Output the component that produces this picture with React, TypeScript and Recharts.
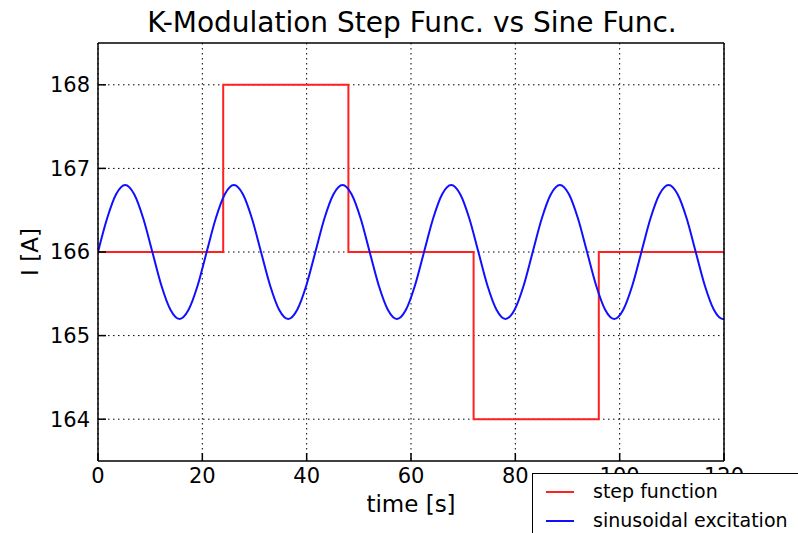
import React from 'react';
import { LineChart, Line, XAxis, YAxis, CartesianGrid } from 'recharts';

// time [s] and current [A] of the sinusoidal excitation
const sineTime = [
  0, 1.74, 3.47, 5.21, 6.94, 8.68, 10.42, 12.15, 13.89, 15.62, 17.36, 19.1,
  20.83, 22.57, 24.31, 26.04, 27.78, 29.51, 31.25, 32.99, 34.72, 36.46, 38.19, 39.93,
  41.67, 43.4, 45.14, 46.88, 48.61, 50.35, 52.08, 53.82, 55.56, 57.29, 59.03, 60.76,
  62.5, 64.24, 65.97, 67.71, 69.44, 71.18, 72.92, 74.65, 76.39, 78.12, 79.86, 81.6,
  83.33, 85.07, 86.81, 88.54, 90.28, 92.01, 93.75, 95.49, 97.22, 98.96, 100.69, 102.43,
  104.17, 105.9, 107.64, 109.37, 111.11, 112.85, 114.58, 116.32, 118.06, 119.79, 120,
];
const sineCurrent = [
  166, 166.4, 166.69, 166.8, 166.69, 166.4, 166, 165.6, 165.31, 165.2, 165.31, 165.6,
  166, 166.4, 166.69, 166.8, 166.69, 166.4, 166, 165.6, 165.31, 165.2, 165.31, 165.6,
  166, 166.4, 166.69, 166.8, 166.69, 166.4, 166, 165.6, 165.31, 165.2, 165.31, 165.6,
  166, 166.4, 166.69, 166.8, 166.69, 166.4, 166, 165.6, 165.31, 165.2, 165.31, 165.6,
  166, 166.4, 166.69, 166.8, 166.69, 166.4, 166, 165.6, 165.31, 165.2, 165.31, 165.6,
  166, 166.4, 166.69, 166.8, 166.69, 166.4, 166, 165.6, 165.31, 165.2, 165.2,
];

// step function
const stepTime = [0, 24, 48, 72, 96, 120];
const stepCurrent = [166, 168, 166, 164, 166, 166];

const xTicks = [0, 20, 40, 60, 80, 100, 120];
const yTicks = [164, 165, 166, 167, 168];

const sineData = sineTime.map((t, i) => ({ t, v: sineCurrent[i] }));
const stepData = stepTime.map((t, i) => ({ t, v: stepCurrent[i] }));

const FONT = '"DejaVu Sans", sans-serif';

export default function App() {
  return (
    <div style={{ position: 'absolute', left: 0, top: 0, width: 798, height: 533, background: '#fff', fontFamily: FONT, overflow: 'hidden' }}>
      <div style={{ position: 'absolute', left: 0, top: 7, width: 824, textAlign: 'center', fontSize: 28, lineHeight: '32px', color: '#000', whiteSpace: 'nowrap' }}>
        K-Modulation Step Func. vs Sine Func.
      </div>
      <LineChart width={798} height={533} margin={{ top: 42, right: 73, bottom: 17, left: 23 }}>
        <CartesianGrid stroke="#000" strokeDasharray="1.5 3.5" strokeWidth={1} xAxisId="bottom" yAxisId="left" verticalValues={xTicks} horizontalValues={yTicks} />
        <XAxis
          xAxisId="bottom"
          dataKey="t"
          type="number"
          domain={[0, 120]}
          ticks={xTicks}
          allowDataOverflow
          height={55}
          stroke="#000"
          strokeWidth={1.5}
          tickSize={-8}
          tickMargin={15}
          tick={{ fill: '#000', fontSize: 21, fontFamily: FONT }}
          label={{ value: 'time [s]', position: 'insideBottom', offset: 4, style: { fill: '#000', fontSize: 23, fontFamily: FONT } }}
        />
        <XAxis
          xAxisId="top"
          orientation="top"
          dataKey="t"
          type="number"
          domain={[0, 120]}
          ticks={xTicks}
          allowDataOverflow
          height={1}
          stroke="#000"
          strokeWidth={1.5}
          tickSize={-8}
          tick={false}
        />
        <YAxis
          yAxisId="left"
          type="number"
          domain={[163.5, 168.5]}
          ticks={yTicks}
          allowDataOverflow
          width={75}
          stroke="#000"
          strokeWidth={1.5}
          tickSize={-8}
          tickMargin={16}
          tick={{ fill: '#000', fontSize: 21, fontFamily: FONT }}
          label={{ value: 'I [A]', angle: -90, position: 'insideLeft', offset: 7, style: { fill: '#000', fontSize: 23, fontFamily: FONT, textAnchor: 'middle' } }}
        />
        <YAxis
          yAxisId="right"
          orientation="right"
          type="number"
          domain={[163.5, 168.5]}
          ticks={yTicks}
          allowDataOverflow
          width={1}
          stroke="#000"
          strokeWidth={1.5}
          tickSize={-8}
          tick={false}
        />
        <Line
          xAxisId="bottom"
          yAxisId="left"
          data={stepData}
          dataKey="v"
          type="stepAfter"
          stroke="#ff2020"
          strokeWidth={2}
          dot={false}
          isAnimationActive={false}
        />
        <Line
          xAxisId="bottom"
          yAxisId="left"
          data={sineData}
          dataKey="v"
          type="monotone"
          stroke="#1010ff"
          strokeWidth={2}
          dot={false}
          isAnimationActive={false}
        />
      </LineChart>
      <div style={{ position: 'absolute', left: 532, top: 473, width: 300, height: 100, border: '1.5px solid #000', background: '#fff', boxSizing: 'border-box' }}>
        <div style={{ position: 'absolute', left: 13, top: 17, width: 28, height: 2, background: '#ff2020' }} />
        <div style={{ position: 'absolute', left: 60, top: 5, fontSize: 19, lineHeight: '24px', color: '#000', whiteSpace: 'nowrap' }}>step function</div>
        <div style={{ position: 'absolute', left: 13, top: 46, width: 28, height: 2, background: '#1010ff' }} />
        <div style={{ position: 'absolute', left: 60, top: 34, fontSize: 19, lineHeight: '24px', color: '#000', whiteSpace: 'nowrap' }}>sinusoidal excitation</div>
      </div>
    </div>
  );
}
